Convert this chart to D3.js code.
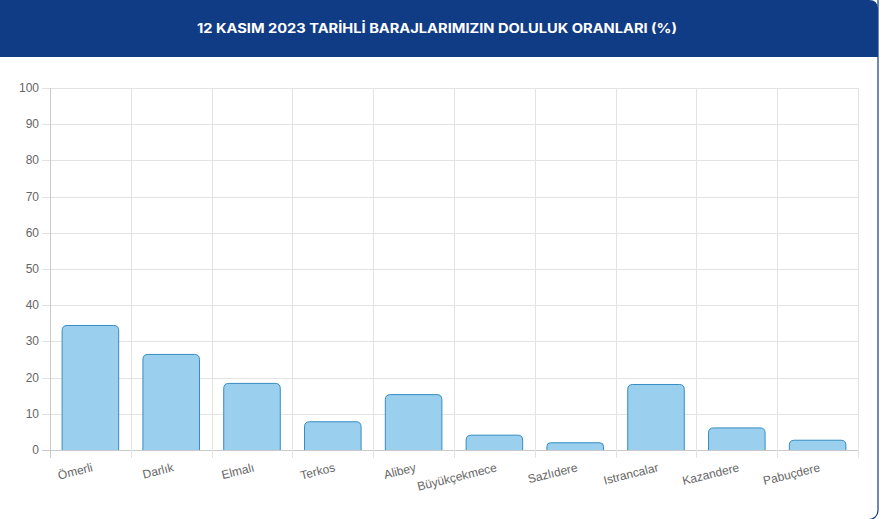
<!DOCTYPE html>
<html>
<head>
<meta charset="utf-8">
<script src="https://cdn.jsdelivr.net/npm/d3@7"></script>
<style>
  body { margin: 0; background: #fff; }
  svg { display: block; }
</style>
</head>
<body>
<svg id="chart"></svg>
<script>
var title = "12 KASIM 2023 TARİHLİ BARAJLARIMIZIN DOLULUK ORANLARI (%)";
var dams = ["Ömerli", "Darlık", "Elmalı", "Terkos", "Alibey", "Büyükçekmece", "Sazlıdere", "Istrancalar", "Kazandere", "Pabuçdere"];
var fillRates = [34.4, 26.4, 18.4, 7.8, 15.3, 4.1, 2.0, 18.1, 6.1, 2.7];
var yTicks = [0, 10, 20, 30, 40, 50, 60, 70, 80, 90, 100];

var W = 882, H = 519;
var plot = { left: 50, right: 858, top: 88, bottom: 450 };
var navy = "#103b85";

var svg = d3.select("#chart").attr("width", W).attr("height", H);

// card + header
svg.append("rect")
  .attr("x", -10).attr("y", -10)
  .attr("width", 888).attr("height", 529.5)
  .attr("rx", 9)
  .attr("fill", "#fff")
  .attr("stroke", navy).attr("stroke-width", 1.2);

svg.append("path")
  .attr("d", "M-10,0 H869 Q878,0 878,9 V57 H-10 Z")
  .attr("fill", navy);

svg.append("text")
  .attr("x", 437).attr("y", 33)
  .attr("text-anchor", "middle")
  .attr("fill", "#fff")
  .attr("font-family", "Inter, 'Open Sans', sans-serif")
  .attr("font-weight", 700)
  .attr("font-size", 13)
  .attr("textLength", 480)
  .attr("lengthAdjust", "spacingAndGlyphs")
  .text(title);

var x = d3.scaleBand().domain(dams).range([plot.left, plot.right]).paddingInner(0).paddingOuter(0);
var y = d3.scaleLinear().domain([0, 100]).range([plot.bottom, plot.top]);

var grid = svg.append("g");

// horizontal grid + y tick marks
grid.selectAll("line.h")
  .data(yTicks)
  .enter().append("line")
  .attr("class", "h")
  .attr("x1", plot.left - 8).attr("x2", plot.right)
  .attr("y1", d => Math.round(y(d)) + 0.5).attr("y2", d => Math.round(y(d)) + 0.5)
  .attr("stroke", d => d === 0 ? "#c9c9c9" : "#e3e3e3");

// vertical grid + x tick marks
var vx = dams.map(d => x(d)).concat([plot.right]);
grid.selectAll("line.v")
  .data(vx)
  .enter().append("line")
  .attr("class", "v")
  .attr("x1", d => Math.round(d) + 0.5).attr("x2", d => Math.round(d) + 0.5)
  .attr("y1", plot.top).attr("y2", plot.bottom + 8)
  .attr("stroke", (d, i) => i === 0 ? "#c9c9c9" : "#e3e3e3");

// y labels
svg.append("g").selectAll("text")
  .data(yTicks)
  .enter().append("text")
  .attr("x", plot.left - 11)
  .attr("y", d => y(d) + 4)
  .attr("text-anchor", "end")
  .attr("fill", "#666")
  .attr("font-family", "Arial, 'Liberation Sans', sans-serif")
  .attr("font-size", 12)
  .text(d => d);

// bars with rounded top corners
var bw = x.bandwidth() * 0.7;
function barPath(d, i) {
  var cx = x(dams[i]) + x.bandwidth() / 2;
  var x0 = cx - bw / 2, x1 = cx + bw / 2;
  var y0 = y(0), y1 = y(d);
  var r = Math.min(5, (y0 - y1) / 2);
  return "M" + x0 + "," + y0 +
    "V" + (y1 + r) +
    "Q" + x0 + "," + y1 + " " + (x0 + r) + "," + y1 +
    "H" + (x1 - r) +
    "Q" + x1 + "," + y1 + " " + x1 + "," + (y1 + r) +
    "V" + y0;
}
svg.append("g").selectAll("path")
  .data(fillRates)
  .enter().append("path")
  .attr("d", barPath)
  .attr("fill", "#9bcfee")
  .attr("stroke", "#358cc2")
  .attr("stroke-width", 1);

// x labels, rotated, right-aligned at band centre
svg.append("g").selectAll("text")
  .data(dams)
  .enter().append("text")
  .attr("transform", d => "translate(" + (x(d) + x.bandwidth() / 2 + 2) + "," + (plot.bottom + 17) + ") rotate(-14)")
  .attr("text-anchor", "end")
  .attr("dy", "0.35em")
  .attr("fill", "#666")
  .attr("font-family", "Arial, 'Liberation Sans', sans-serif")
  .attr("font-size", 12)
  .text(d => d);
</script>
</body>
</html>
